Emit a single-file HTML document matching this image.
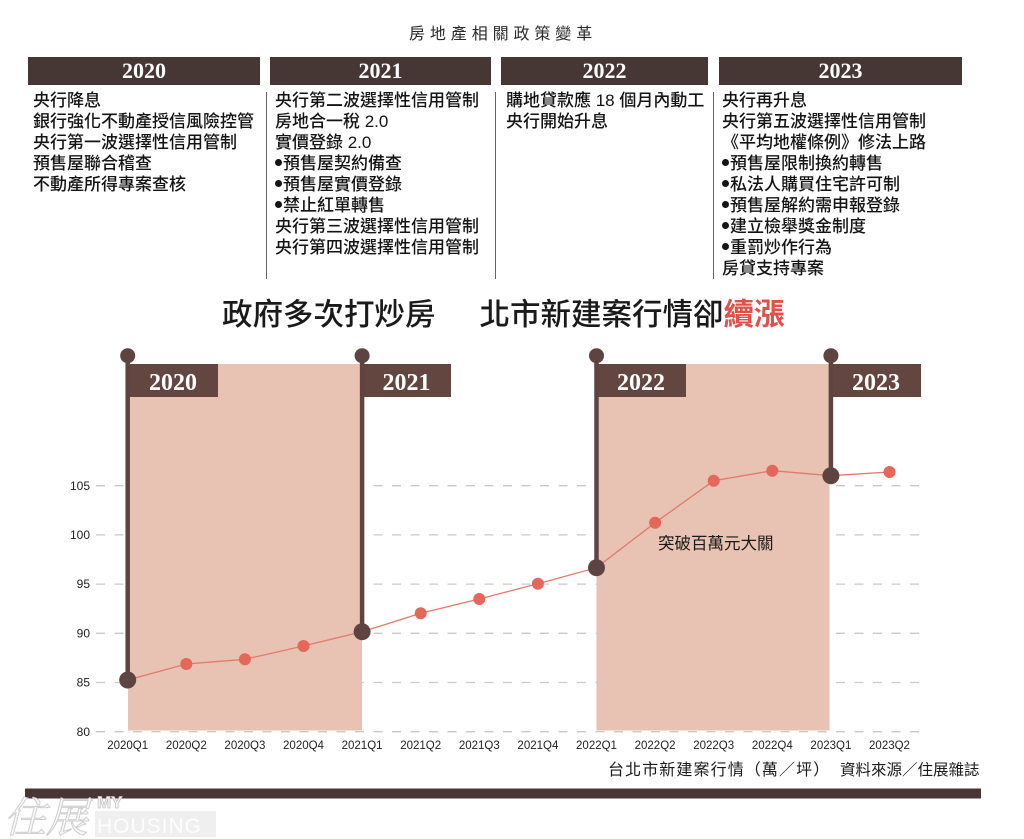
<!DOCTYPE html>
<html>
<head>
<meta charset="utf-8">
<style>
  html,body{margin:0;padding:0;background:#fff;}
  body{width:1024px;height:839px;position:relative;overflow:hidden;
       font-family:"Liberation Sans","Noto Sans CJK TC",sans-serif;color:#222;}
  .abs{position:absolute;}
  .title{left:409px;top:24px;font-size:16px;letter-spacing:4.9px;line-height:22px;color:#2a2a2a;white-space:nowrap;}
  .bar{position:absolute;top:57px;height:28px;background:#463735;color:#fff;
       font-family:"Liberation Serif",serif;font-weight:bold;font-size:22px;
       line-height:28px;text-align:center;}
  .col{position:absolute;top:89.5px;font-size:17px;line-height:21.1px;white-space:nowrap;color:#141414;font-weight:500;}
  .sep{position:absolute;top:92px;height:187px;width:1.5px;background:#666;}
  .dot{display:inline-block;width:7px;height:7px;border-radius:50%;background:#141414;
       vertical-align:middle;margin-right:1px;position:relative;top:-2px;}
  .ctitle{left:222px;top:298px;font-size:30.5px;line-height:34px;white-space:nowrap;color:#1a1a1a;font-weight:500;}
  .red{color:#e2504a;font-weight:bold;}
</style>
</head>
<body>

<div class="abs title">房地產相關政策變革</div>

<div class="bar" style="left:28px;width:232px;">2020</div>
<div class="bar" style="left:270px;width:221px;">2021</div>
<div class="bar" style="left:501px;width:207px;">2022</div>
<div class="bar" style="left:719px;width:243px;">2023</div>

<div class="sep" style="left:265.5px;"></div>
<div class="sep" style="left:494.5px;"></div>
<div class="sep" style="left:712.5px;"></div>

<div class="col" style="left:33px;">
央行降息<br>
銀行強化不動產授信風險控管<br>
央行第一波選擇性信用管制<br>
預售屋聯合稽查<br>
不動產所得專案查核
</div>

<div class="col" style="left:275px;">
央行第二波選擇性信用管制<br>
房地合一稅 2.0<br>
實價登錄 2.0<br>
<span class="dot"></span>預售屋契約備查<br>
<span class="dot"></span>預售屋實價登錄<br>
<span class="dot"></span>禁止紅單轉售<br>
央行第三波選擇性信用管制<br>
央行第四波選擇性信用管制
</div>

<div class="col" style="left:506px;">
購地貸款應 18 個月內動工<br>
央行開始升息
</div>

<div class="col" style="left:722px;">
央行再升息<br>
央行第五波選擇性信用管制<br>
《平均地權條例》修法上路<br>
<span class="dot"></span>預售屋限制換約轉售<br>
<span class="dot"></span>私法人購買住宅許可制<br>
<span class="dot"></span>預售屋解約需申報登錄<br>
<span class="dot"></span>建立檢舉獎金制度<br>
<span class="dot"></span>重罰炒作行為<br>
房貸支持專案
</div>

<div class="abs ctitle">政府多次打炒房<span style="display:inline-block;width:44px;"></span>北市新建案行情卻<span class="red">續漲</span></div>

<svg class="abs" style="left:0;top:0;" width="1024" height="839" viewBox="0 0 1024 839" xmlns="http://www.w3.org/2000/svg">
  <!-- grid -->
  <g stroke="#c9c9c9" stroke-width="1.3" stroke-dasharray="9 9.5">
    <line x1="96" y1="485.7" x2="921" y2="485.7"/>
    <line x1="96" y1="534.9" x2="921" y2="534.9"/>
    <line x1="96" y1="584.1" x2="921" y2="584.1"/>
    <line x1="96" y1="633.3" x2="921" y2="633.3"/>
    <line x1="96" y1="682.5" x2="921" y2="682.5"/>
    <line x1="96" y1="731.7" x2="921" y2="731.7"/>
  </g>
  <!-- shaded regions -->
  <rect x="128" y="364" width="234" height="366.5" fill="#e8c2b2"/>
  <rect x="596.5" y="364" width="233" height="366.5" fill="#e8c2b2"/>

  <!-- y labels -->
  <g font-family="Liberation Sans, sans-serif" font-size="12" fill="#222" text-anchor="end">
    <text x="90" y="490">105</text>
    <text x="90" y="539">100</text>
    <text x="90" y="588">95</text>
    <text x="90" y="637.5">90</text>
    <text x="90" y="686.5">85</text>
    <text x="90" y="736">80</text>
  </g>

  <!-- x labels -->
  <g font-family="Liberation Sans, sans-serif" font-size="11.5" fill="#222" text-anchor="middle">
    <text x="127.7" y="749">2020Q1</text>
    <text x="186.3" y="749">2020Q2</text>
    <text x="244.9" y="749">2020Q3</text>
    <text x="303.5" y="749">2020Q4</text>
    <text x="362.1" y="749">2021Q1</text>
    <text x="420.7" y="749">2021Q2</text>
    <text x="479.3" y="749">2021Q3</text>
    <text x="537.9" y="749">2021Q4</text>
    <text x="596.5" y="749">2022Q1</text>
    <text x="655.1" y="749">2022Q2</text>
    <text x="713.7" y="749">2022Q3</text>
    <text x="772.3" y="749">2022Q4</text>
    <text x="830.9" y="749">2023Q1</text>
    <text x="889.5" y="749">2023Q2</text>
  </g>

  <!-- flags -->
  <g fill="#62463f">
    <rect x="126" y="364" width="92" height="33"/>
    <rect x="360" y="364" width="91" height="33"/>
    <rect x="594.5" y="364" width="91.5" height="33"/>
    <rect x="829" y="364" width="92" height="33"/>
  </g>
  <g stroke="#5e4440" stroke-width="4.5">
    <line x1="127.7" y1="356" x2="127.7" y2="680"/>
    <line x1="362.1" y1="356" x2="362.1" y2="631.7"/>
    <line x1="596.5" y1="356" x2="596.5" y2="567.7"/>
    <line x1="830.9" y1="356" x2="830.9" y2="475.7"/>
  </g>
  <g fill="#5e4440">
    <circle cx="127.7" cy="355.7" r="7.5"/>
    <circle cx="362.1" cy="355.7" r="7.5"/>
    <circle cx="596.5" cy="355.7" r="7.5"/>
    <circle cx="830.9" cy="355.7" r="7.5"/>
  </g>
  <g font-family="Liberation Serif, serif" font-weight="bold" font-size="24" fill="#fff" text-anchor="middle">
    <text x="173" y="390">2020</text>
    <text x="406.5" y="390">2021</text>
    <text x="641" y="390">2022</text>
    <text x="876" y="390">2023</text>
  </g>

  <!-- series -->
  <polyline fill="none" stroke="#e27a6c" stroke-width="1.3"
    points="127.7,680 186.3,664 244.9,659.3 303.5,646 362.1,631.7 420.7,613.3 479.3,599 537.9,583.7 596.5,567.7 655.1,522.7 713.7,480.7 772.3,470.7 830.9,475.7 889.5,472"/>
  <g fill="#e4675a">
    <circle cx="186.3" cy="664" r="6"/>
    <circle cx="244.9" cy="659.3" r="6"/>
    <circle cx="303.5" cy="646" r="6"/>
    <circle cx="420.7" cy="613.3" r="6"/>
    <circle cx="479.3" cy="599" r="6"/>
    <circle cx="537.9" cy="583.7" r="6"/>
    <circle cx="655.1" cy="522.7" r="6"/>
    <circle cx="713.7" cy="480.7" r="6"/>
    <circle cx="772.3" cy="470.7" r="6"/>
    <circle cx="889.5" cy="472" r="6"/>
  </g>
  <g fill="#5e4440">
    <circle cx="127.7" cy="680" r="8.5"/>
    <circle cx="362.1" cy="631.7" r="8.5"/>
    <circle cx="596.5" cy="567.7" r="8.5"/>
    <circle cx="830.9" cy="475.7" r="8.5"/>
  </g>

  <text x="658" y="549" font-family="Liberation Sans, Noto Sans CJK TC, sans-serif" font-size="16.5" fill="#1a1a1a">突破百萬元大關</text>

  <!-- footer -->
  <text x="608" y="775" font-family="Liberation Sans, Noto Sans CJK TC, sans-serif" font-size="16" letter-spacing="1.1" fill="#1a1a1a">台北市新建案行情（萬／坪）</text>
  <text x="840" y="775" font-family="Liberation Sans, Noto Sans CJK TC, sans-serif" font-size="15.5" fill="#1a1a1a">資料來源／住展雜誌</text>
  <rect x="25" y="788.5" width="956" height="10" fill="#483634"/>

  <!-- watermark logo -->
  <rect x="95" y="811" width="121" height="26" fill="#efefef"/>
  <text x="4" y="832" font-family="Noto Serif CJK SC, Noto Sans CJK TC, serif" font-size="42" font-style="italic" fill="#fafafa" stroke="#cfcfcf" stroke-width="1">住展</text>
  <text x="97" y="808" font-family="Liberation Sans, sans-serif" font-weight="bold" font-size="17" fill="#f4f4f4" stroke="#c4c4c4" stroke-width="0.8">MY</text>
  <text x="97" y="833" font-family="Liberation Sans, sans-serif" font-size="21" letter-spacing="1" fill="#fdfdfd">HOUSING</text>
</svg>

</body>
</html>
